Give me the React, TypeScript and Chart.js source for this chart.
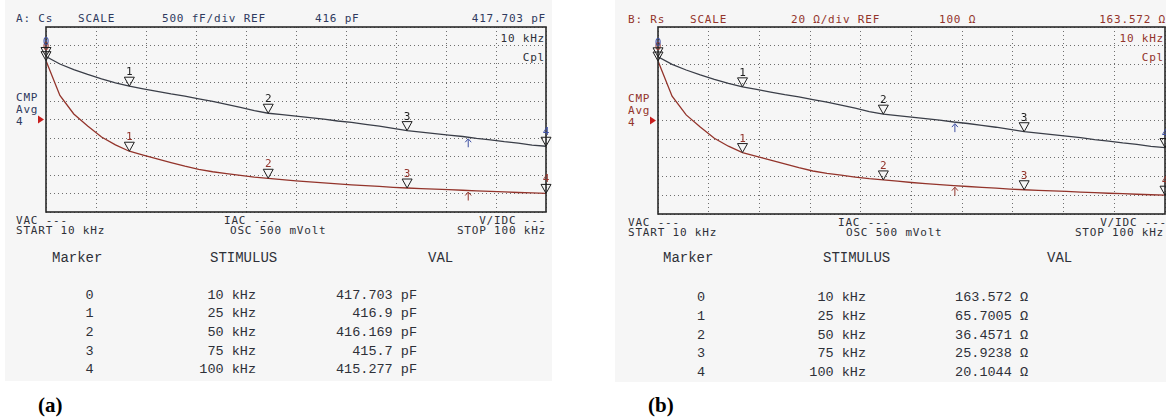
import React, { useEffect, useRef } from 'react';
import { Chart, registerables } from 'chart.js';

Chart.register(...registerables);

// ---- data ----
const freqKHz = [10, 12.5, 15, 17.5, 20, 22.5, 25, 27.5, 30, 32.5, 35, 37.5, 40, 42.5, 45, 47.5, 50, 52.5, 55, 57.5, 60, 62.5, 65, 67.5, 70, 72.5, 75, 77.5, 80, 82.5, 85, 87.5, 90, 92.5, 95, 97.5, 100];
const csPF = [417.703, 417.5, 417.35, 417.22, 417.1, 416.99, 416.9, 416.83, 416.76, 416.69, 416.63, 416.56, 416.49, 416.41, 416.33, 416.24, 416.169, 416.13, 416.09, 416.05, 416.01, 415.96, 415.92, 415.87, 415.82, 415.76, 415.7, 415.66, 415.62, 415.58, 415.54, 415.49, 415.45, 415.4, 415.36, 415.31, 415.277];
const rsOhm = [163.572, 126, 106, 93, 81, 72.5, 65.7, 61.5, 57.5, 53.5, 49.5, 46, 43.5, 41.5, 39.5, 37.8, 36.46, 35.1, 33.7, 32.5, 31.4, 30.4, 29.4, 28.5, 27.6, 26.7, 25.92, 25.3, 24.7, 24.1, 23.5, 22.8, 22.2, 21.7, 21.1, 20.6, 20.1];

const markerIds = ['0', '1', '2', '3', '4'];
const markerFreqKHz = [10, 25, 50, 75, 100];
const markerCsPF = [417.703, 416.9, 416.169, 415.7, 415.277];
const markerRsOhm = [163.572, 65.7005, 36.4571, 25.9238, 20.1044];
const markerStimulus = ['10 kHz', '25 kHz', '50 kHz', '75 kHz', '100 kHz'];
const markerCsText = ['417.703 pF', '416.9 pF', '416.169 pF', '415.7 pF', '415.277 pF'];
const markerRsText = ['163.572 Ω', '65.7005 Ω', '36.4571 Ω', '25.9238 Ω', '20.1044 Ω'];

const csRefPF = 416;
const csPerDivPF = 0.5;
const rsRefOhm = 100;
const rsPerDivOhm = 20;
const divisions = 10;
const startKHz = 10;
const stopKHz = 100;
const arrowFreqA = 86;
const arrowFreqB = 62.7;

// ---- styles ----
const DARK = '#3a3e48';
const RED = '#93342b';
const NAVY = '#2f3a5e';
const BLUE = '#3d4fa3';
const GRID = '#6e6e6e';
const TXT = '#2e3038';

function interp(f: number, ys: number[]) {
  for (let i = 0; i < freqKHz.length - 1; i++) {
    if (f >= freqKHz[i] && f <= freqKHz[i + 1]) {
      const t = (f - freqKHz[i]) / (freqKHz[i + 1] - freqKHz[i]);
      return ys[i] + t * (ys[i + 1] - ys[i]);
    }
  }
  return ys[ys.length - 1];
}

const overlayPlugin = {
  id: 'overlay',
  afterDatasetsDraw(chart: any, _args: any, opts: any) {
    const { ctx, chartArea } = chart;
    const x = chart.scales.x;
    const yC = chart.scales.yC;
    const yR = chart.scales.yR;
    ctx.save();
    // frame
    ctx.strokeStyle = '#2a2a2a';
    ctx.lineWidth = 1.6;
    ctx.setLineDash([]);
    ctx.strokeRect(chartArea.left, chartArea.top, chartArea.right - chartArea.left, chartArea.bottom - chartArea.top);

    // reference pointer
    const ry = yC.getPixelForValue(csRefPF);
    ctx.fillStyle = '#c81e1e';
    ctx.beginPath();
    ctx.moveTo(chartArea.left - 8, ry - 4);
    ctx.lineTo(chartArea.left - 2, ry);
    ctx.lineTo(chartArea.left - 8, ry + 4);
    ctx.closePath();
    ctx.fill();

    // markers
    const drawMarker = (px: number, py: number, label: string, color: string) => {
      ctx.strokeStyle = '#1e1e1e';
      ctx.lineWidth = 1;
      ctx.beginPath();
      ctx.moveTo(px - 5, py - 9);
      ctx.lineTo(px + 5, py - 9);
      ctx.lineTo(px, py);
      ctx.closePath();
      ctx.stroke();
      ctx.fillStyle = color;
      ctx.font = '11px "DejaVu Sans Mono"';
      ctx.textAlign = 'center';
      ctx.textBaseline = 'alphabetic';
      ctx.fillText(label, px, py - 11);
    };
    markerFreqKHz.forEach((f, i) => {
      const px = x.getPixelForValue(f);
      drawMarker(px, yR.getPixelForValue(markerRsOhm[i]), markerIds[i], RED);
      drawMarker(px, yC.getPixelForValue(markerCsPF[i]), markerIds[i], i === 0 || i === 4 ? BLUE : '#1e1e1e');
    });

    // small arrows
    const drawArrow = (px: number, py: number, color: string) => {
      ctx.strokeStyle = color;
      ctx.fillStyle = color;
      ctx.lineWidth = 1;
      ctx.beginPath();
      ctx.moveTo(px, py + 2);
      ctx.lineTo(px, py + 10);
      ctx.stroke();
      ctx.beginPath();
      ctx.moveTo(px - 3, py + 5);
      ctx.lineTo(px, py + 1.5);
      ctx.lineTo(px + 3, py + 5);
      ctx.stroke();
    };
    const af = opts.arrowFreq;
    const ax = x.getPixelForValue(af);
    drawArrow(ax, yC.getPixelForValue(interp(af, csPF)), BLUE);
    drawArrow(ax, yR.getPixelForValue(interp(af, rsOhm)), RED);
    ctx.restore();
  },
};

function Trace(props: { left: number; top: number; width: number; height: number; pad: any; arrowFreq: number }) {
  const ref = useRef<HTMLCanvasElement>(null);
  useEffect(() => {
    const gridOpts = { color: GRID, lineWidth: 1, drawTicks: false };
    const borderOpts = { display: false, dash: [1, 3] };
    const chart = new Chart(ref.current as HTMLCanvasElement, {
      type: 'line',
      data: {
        datasets: [
          {
            data: freqKHz.map((f, i) => ({ x: f, y: csPF[i] })),
            yAxisID: 'yC',
            borderColor: DARK,
            borderWidth: 1.3,
            pointRadius: 0,
            tension: 0,
          },
          {
            data: freqKHz.map((f, i) => ({ x: f, y: rsOhm[i] })),
            yAxisID: 'yR',
            borderColor: RED,
            borderWidth: 1.3,
            pointRadius: 0,
            tension: 0,
          },
        ],
      },
      options: {
        animation: false,
        responsive: false,
        maintainAspectRatio: false,
        events: [],
        layout: { padding: props.pad },
        plugins: {
          legend: { display: false },
          tooltip: { enabled: false },
          overlay: { arrowFreq: props.arrowFreq },
        } as any,
        scales: {
          x: {
            type: 'linear',
            min: startKHz,
            max: stopKHz,
            ticks: { stepSize: (stopKHz - startKHz) / divisions, display: false },
            grid: gridOpts,
            border: borderOpts,
            afterFit: (s: any) => { s.height = 0; },
          },
          yC: {
            type: 'linear',
            position: 'left',
            min: csRefPF - (divisions / 2) * csPerDivPF,
            max: csRefPF + (divisions / 2) * csPerDivPF,
            ticks: { stepSize: csPerDivPF, display: false },
            grid: gridOpts,
            border: borderOpts,
            afterFit: (s: any) => { s.width = 0; },
          },
          yR: {
            type: 'linear',
            position: 'right',
            display: false,
            min: rsRefOhm - (divisions / 2) * rsPerDivOhm,
            max: rsRefOhm + (divisions / 2) * rsPerDivOhm,
          },
        } as any,
      },
      plugins: [overlayPlugin],
    } as any);
    return () => chart.destroy();
  }, []);
  return (
    <canvas
      ref={ref}
      width={props.width}
      height={props.height}
      style={{ position: 'absolute', left: props.left, top: props.top, width: props.width, height: props.height }}
    />
  );
}

function T(p: { x: number; y: number; t: string; c?: string; s?: number; right?: boolean; center?: boolean; f?: string; ls?: number; w?: any }) {
  const s = p.s ?? 11;
  return (
    <div
      style={{
        position: 'absolute',
        left: p.x,
        top: p.y - s / 2,
        lineHeight: `${s}px`,
        fontSize: s,
        fontFamily: p.f ?? '"DejaVu Sans Mono", monospace',
        letterSpacing: p.ls ?? 0.8,
        fontWeight: p.w ?? 'normal',
        color: p.c ?? TXT,
        whiteSpace: 'pre',
        transform: p.right ? 'translateX(-100%)' : p.center ? 'translateX(-50%)' : undefined,
      }}
    >
      {p.t}
    </div>
  );
}

const TABLE_FONT = '"Liberation Mono", monospace';

function Panel(p: any) {
  const o = p.o;
  const hc = p.headerColor;
  return (
    <>
      <div style={{ position: 'absolute', left: o.bgL, top: 0, width: o.bgW, height: o.bgH, background: '#f6f6f6' }} />
      <T x={o.hx[0]} y={o.hy} t={p.head[0]} c={hc} />
      <T x={o.hx[1]} y={o.hy} t="SCALE" c={hc} />
      <T x={o.hx[2]} y={o.hy} t={p.head[1]} c={hc} />
      <T x={o.hx[3]} y={o.hy} t={p.head[2]} c={hc} />
      <T x={o.hx[4]} y={o.hy} t={p.head[3]} c={hc} right />
      <T x={o.inR} y={38} t="10 kHz" c={p.innerColor} right />
      <T x={o.inR} y={57} t="Cpl" c={p.innerColor} right />
      <T x={o.cx} y={o.cmpY} t="CMP" c={hc} />
      <T x={o.cx} y={o.cmpY + 12} t="Avg" c={hc} />
      <T x={o.cx} y={o.cmpY + 24} t="4" c={hc} />
      <T x={o.cx} y={o.b1} t="VAC ---" />
      <T x={o.cx} y={o.b2} t="START 10 kHz" />
      <T x={o.iacX} y={o.b1} t="IAC ---" />
      <T x={o.oscX} y={o.b2} t="OSC 500 mVolt" />
      <T x={o.vR} y={o.b1} t="V/IDC ---" right />
      <T x={o.sR} y={o.b2} t="STOP 100 kHz" right />
      <T x={o.tm} y={258} t="Marker" f={TABLE_FONT} s={14} ls={0} />
      <T x={o.ts} y={258} t="STIMULUS" f={TABLE_FONT} s={14} ls={0} />
      <T x={o.tv} y={258} t="VAL" f={TABLE_FONT} s={14} ls={0} />
      {markerIds.map((m, i) => (
        <React.Fragment key={m}>
          <T x={o.rId} y={o.r0 + o.rStep * i} t={m} f={TABLE_FONT} s={13.5} ls={0} center />
          <T x={o.rStim} y={o.r0 + o.rStep * i} t={markerStimulus[i]} f={TABLE_FONT} s={13.5} ls={0} right />
          <T x={o.rVal} y={o.r0 + o.rStep * i} t={p.vals[i]} f={TABLE_FONT} s={13.5} ls={0} right />
        </React.Fragment>
      ))}
      <T x={o.capX} y={405} t={p.cap} f='"Liberation Serif", serif' s={21} ls={0} w="bold" c="#000" />
    </>
  );
}

const layoutA = {
  bgL: 5, bgW: 547, bgH: 381,
  hx: [16, 78, 162, 315, 546], hy: 18,
  inR: 545, cx: 16, cmpY: 97,
  b1: 220, b2: 230.5, iacX: 224, oscX: 230, vR: 546, sR: 546,
  tm: 52, ts: 210, tv: 428,
  rId: 89.5, rStim: 256, rVal: 417, r0: 295.5, rStep: 18.6,
  capX: 38,
};
const layoutB = {
  bgL: 615, bgW: 551, bgH: 382,
  hx: [628, 690, 791, 939, 1166], hy: 19,
  inR: 1164, cx: 628, cmpY: 98,
  b1: 222, b2: 232.5, iacX: 838, oscX: 846, vR: 1167, sR: 1164,
  tm: 663, ts: 823, tv: 1047,
  rId: 701, rStim: 866, rVal: 1028, r0: 298, rStep: 18.7,
  capX: 648,
};

export default function App() {
  return (
    <div style={{ position: 'absolute', left: 0, top: 0, width: 1166, height: 419, background: '#fff', overflow: 'hidden' }}>
      <Panel
        o={layoutA}
        headerColor={NAVY}
        innerColor={TXT}
        head={['A: Cs', '500 fF/div REF', `${csRefPF} pF`, markerCsText[0]]}
        vals={markerCsText}
        cap="(a)"
      />
      <Panel
        o={layoutB}
        headerColor={RED}
        innerColor={RED}
        head={['B: Rs', '20 Ω/div REF', `${rsRefOhm} Ω`, markerRsText[0]]}
        vals={markerRsText}
        cap="(b)"
      />
      <Trace left={36} top={17} width={520} height={205} pad={{ left: 10, top: 10, right: 10, bottom: 10 }} arrowFreq={arrowFreqA} />
      <Trace left={648} top={17} width={518} height={207} pad={{ left: 10, top: 10, right: 1, bottom: 10 }} arrowFreq={arrowFreqB} />
    </div>
  );
}
